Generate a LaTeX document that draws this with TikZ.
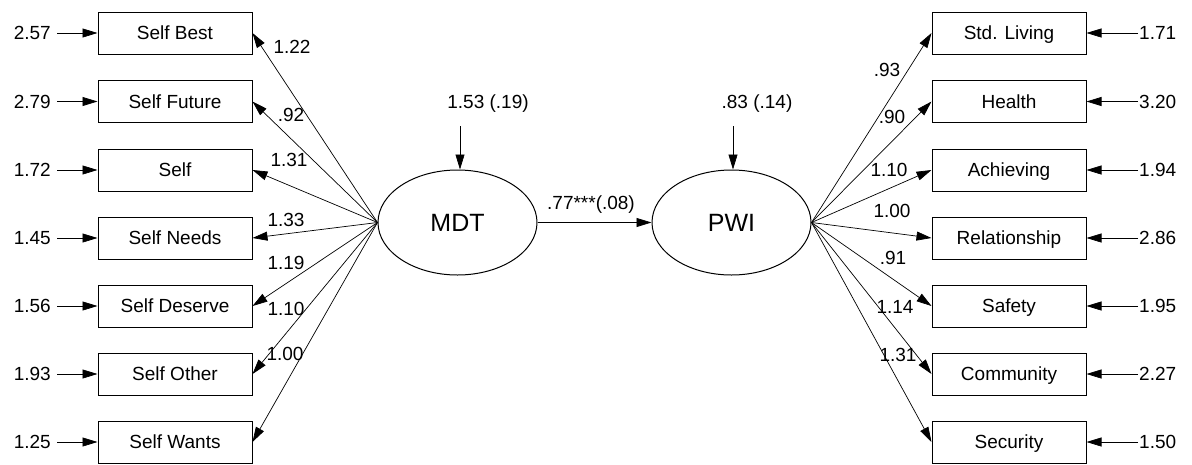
\documentclass[tikz,border=0pt]{standalone}
\usepackage{fontspec}
\setmainfont{Liberation Sans}
\usetikzlibrary{arrows.meta,shapes.geometric}
\begin{document}
\begin{tikzpicture}[x=1pt,y=-1pt,
  every node/.style={font=\fontsize{19}{22}\selectfont,text height=13.6pt,text depth=0pt},
  obs/.style={draw,line width=1pt,minimum width=154pt,minimum height=42pt,inner sep=0pt},
  lat/.style={draw,ellipse,line width=1pt,minimum width=159pt,minimum height=105pt,inner sep=0pt,
    font=\fontsize{25}{28}\selectfont,text height=18pt},
  arr/.style={line width=0.7pt,-{Triangle[length=15pt,width=9pt]}},
  errl/.style={anchor=east,inner xsep=6pt,inner ysep=0pt},
  errr/.style={anchor=west,inner xsep=1pt,inner ysep=0pt},
  lab/.style={inner sep=0pt}]
\useasboundingbox (0,0) rectangle (1192,464);

% latent variables
\node[lat] (mdt) at (457.5,222.5) {MDT};
\node[lat] (pwi) at (731.5,222.5) {PWI};

% structural path
\draw[arr] (mdt.east) -- (pwi.west);
\node[lab] (path) at (591,203) {.77***(.08)};

% disturbances
\node[lab] (dm) at (488,102) {1.53 (.19)};
\node[lab] (dp) at (757,102) {.83 (.14)};
\coordinate (dms) at (460,126);
\coordinate (dps) at (733,126);
\draw[arr] (dms) -- (mdt.north -| dms);
\draw[arr] (dps) -- (pwi.north -| dps);

% MDT indicators
\foreach \n/\t/\y/\e in {1/Self Best/33/2.57, 2/Self Future/101.5/2.79, 3/Self/170/1.72,
    4/Self Needs/238/1.45, 5/Self Deserve/306/1.56, 6/Self Other/374/1.93, 7/Self Wants/442/1.25}{
  \node[obs] (l\n) at (175,\y) {\t};
  \node[errl] (el\n) at (57,\y) {\e};
  \draw[arr] (el\n.east) -- (l\n.west);
  \draw[arr] (mdt.west) -- (l\n.east);
}

% PWI indicators
\foreach \n/\t/\y/\e in {1/Std. Living/33/1.71, 2/Health/101.5/3.20, 3/Achieving/170/1.94,
    4/Relationship/238/2.86, 5/Safety/306/1.95, 6/Community/374/2.27, 7/Security/442/1.50}{
  \node[obs] (r\n) at (1009,\y) {\t};
  \node[errr] (er\n) at (1138,\y) {\e};
  \draw[arr] (er\n.west) -- (r\n.east);
  \draw[arr] (pwi.east) -- (r\n.west);
}

% loadings on MDT
\foreach \n/\x/\y/\v in {1/292/47/1.22, 2/291/115/.92, 3/289/160/1.31, 4/286/220/1.33,
    5/286/263/1.19, 6/286/309/1.10, 7/285/354/1.00}{
  \node[lab] (ll\n) at (\x,\y) {\v};
}

% loadings on PWI
\foreach \n/\x/\y/\v in {1/887/70/.93, 2/892/117/.90, 3/889/170/1.10, 4/892/211/1.00,
    5/893/258/.91, 6/895/307/1.14, 7/898/355/1.31}{
  \node[lab] (rl\n) at (\x,\y) {\v};
}
\end{tikzpicture}
\end{document}
